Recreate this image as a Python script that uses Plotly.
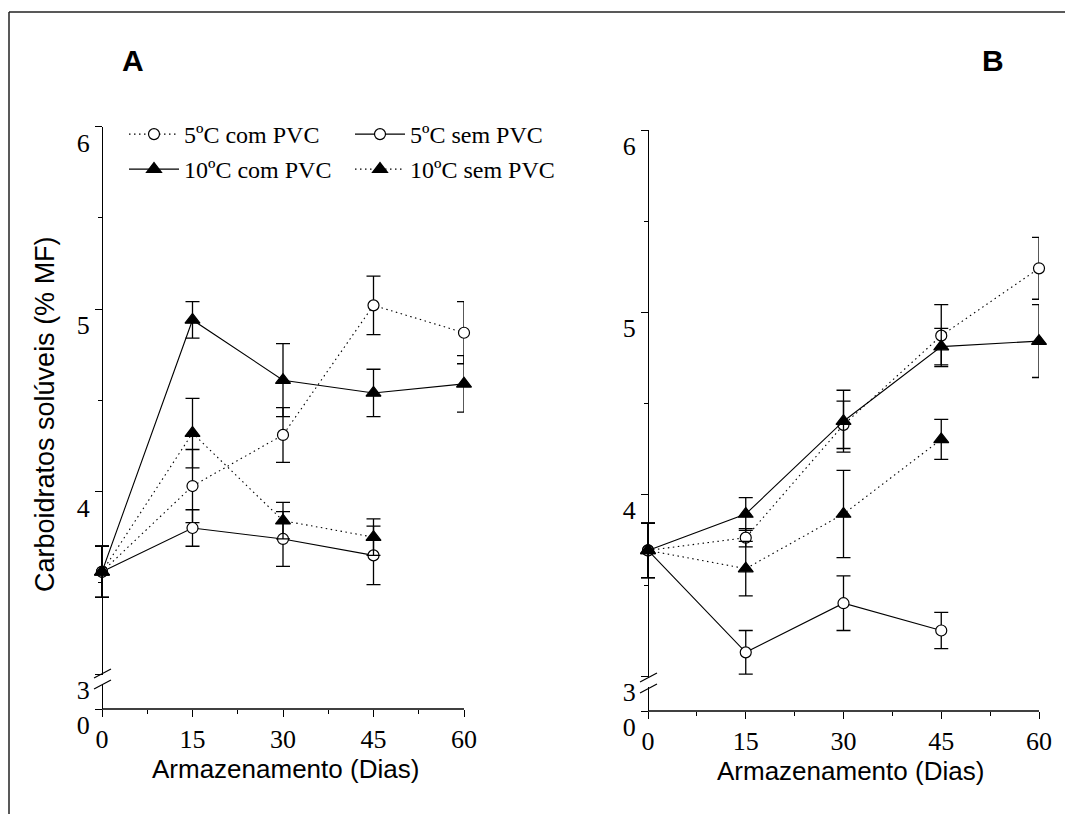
import plotly.graph_objects as go

# ---------------- data ----------------
days = [0, 15, 30, 45, 60]
days_short = [0, 15, 30, 45]

# Panel A
A_5com = [3.56, 4.03, 4.31, 5.02, 4.87]
A_5com_err = [0.14, 0.20, 0.15, 0.16, 0.17]
A_5sem = [3.56, 3.80, 3.74, 3.65]
A_5sem_err = [0.14, 0.10, 0.15, 0.16]
A_10com = [3.56, 4.94, 4.61, 4.54, 4.59]
A_10com_err = [0.14, 0.10, 0.20, 0.13, 0.155]
A_10sem = [3.56, 4.32, 3.84, 3.75]
A_10sem_err = [0.14, 0.19, 0.10, 0.10]

# Panel B
B_5com = [3.69, 3.76, 4.38, 4.87, 5.24]
B_5com_err = [0.15, 0.05, 0.13, 0.17, 0.17]
B_5sem = [3.69, 3.13, 3.40, 3.25]
B_5sem_err = [0.15, 0.12, 0.15, 0.10]
B_10com = [3.69, 3.89, 4.40, 4.81, 4.84]
B_10com_err = [0.15, 0.09, 0.17, 0.10, 0.20]
B_10sem = [3.69, 3.59, 3.89, 4.30]
B_10sem_err = [0.15, 0.15, 0.24, 0.11]

series_names = ["5ºC com PVC", "5ºC sem PVC", "10ºC com PVC", "10ºC sem PVC"]
x_ticks = [0, 15, 30, 45, 60]
x_minor = [7.5, 22.5, 37.5, 52.5]
y_ticks = [3, 4, 5, 6]
y_minor = [3.5, 4.5, 5.5]
y_tick_text = ["0", "3", "4", "5", "6"]

# ---------------- layout helpers ----------------
W, H = 1065, 814
def px(x):
    return x / W
def py(y):
    return 1 - y / H

SERIF = "Liberation Serif, Times New Roman, serif"
SANS = "Liberation Sans, Arial, sans-serif"

dot = "1.5px,3.5px"
styles = {
    "5com": dict(dash=dot, symbol="circle", fill="white", size=11),
    "5sem": dict(dash="solid", symbol="circle", fill="white", size=11),
    "10com": dict(dash="solid", symbol="triangle-up", fill="black", size=13),
    "10sem": dict(dash=dot, symbol="triangle-up", fill="black", size=13),
}

fig = go.Figure()

def add(xv, yv, err, key, name, xa, ya, showlegend, legend):
    s = styles[key]
    fig.add_trace(go.Scatter(
        x=xv, y=yv, mode="lines+markers", name=name,
        xaxis=xa, yaxis=ya, showlegend=showlegend, legend=legend,
        cliponaxis=False,
        line=dict(color="black", width=1.1, dash=s["dash"]),
        marker=dict(symbol=s["symbol"], size=s["size"], color=s["fill"],
                    line=dict(color="black", width=1.2)),
        error_y=dict(type="data", array=err, visible=True, color="black",
                     thickness=1.3, width=7),
    ))

# Panel A
add(days, A_5com, A_5com_err, "5com", series_names[0], "x", "y", True, "legend")
add(days_short, A_5sem, A_5sem_err, "5sem", series_names[1], "x", "y", True, "legend")
add(days, A_10com, A_10com_err, "10com", series_names[2], "x", "y", True, "legend2")
add(days_short, A_10sem, A_10sem_err, "10sem", series_names[3], "x", "y", True, "legend2")
# Panel B
add(days, B_5com, B_5com_err, "5com", series_names[0], "x2", "y2", False, "legend")
add(days_short, B_5sem, B_5sem_err, "5sem", series_names[1], "x2", "y2", False, "legend")
add(days, B_10com, B_10com_err, "10com", series_names[2], "x2", "y2", False, "legend2")
add(days_short, B_10sem, B_10sem_err, "10sem", series_names[3], "x2", "y2", False, "legend2")

# axis geometry (pixels)
A_x0, A_x1, A_ybot, A_ytop = 102, 464, 709, 126.5
B_x0, B_x1, B_ybot, B_ytop = 648, 1039, 711, 130
A_low = 3 - 35 / 182.5
B_low = 3 - 35 / 182.0
XPAD = 3.0  # days of room left of the y axis so day-0 error caps are not clipped
TICKFONT = dict(family=SERIF, size=26, color="black")

def xax(x0, x1, anchor):
    pxd = (x1 - x0) / 60.0
    left = x0 - XPAD * pxd
    return dict(range=[-XPAD, 60], domain=[px(left), px(x1)], anchor=anchor,
                tickvals=x_ticks, ticktext=[str(v) for v in x_ticks],
                showline=False, ticks="outside", automargin=False,
                ticklen=7, tickwidth=1.3, tickcolor="black", showgrid=False,
                zeroline=False, tickfont=TICKFONT,
                ticklabelstandoff=0,
                minor=dict(tickvals=x_minor, ticklen=4, tickwidth=1.2,
                           tickcolor="black", ticks="outside", showgrid=False))

def yax(low, x0, ybot, ytop):
    return dict(range=[low, 6], tickvals=[low] + y_ticks, ticktext=y_tick_text,
                domain=[py(ybot), py(ytop)], anchor="free", position=px(x0),
                showline=True, linecolor="black", linewidth=1.3, ticks="outside",
                automargin=False,
                ticklen=7, tickwidth=1.3, tickcolor="black", showgrid=False,
                zeroline=False, tickfont=TICKFONT,
                ticklabelshift=16, ticklabelstandoff=0,
                minor=dict(tickvals=y_minor, ticklen=4, tickwidth=1.2,
                           tickcolor="black", ticks="outside", showgrid=False))

leg = dict(orientation="h", xanchor="left", yanchor="top",
           entrywidth=161, entrywidthmode="pixels", itemwidth=50,
           font=dict(family=SERIF, size=24, color="black"),
           bgcolor="rgba(0,0,0,0)", tracegroupgap=0)

fig.update_layout(
    width=W, height=H, margin=dict(l=0, r=0, t=0, b=0, autoexpand=False),
    paper_bgcolor="white", plot_bgcolor="white",
    xaxis=xax(A_x0, A_x1, "y"),
    yaxis=yax(A_low, A_x0, A_ybot, A_ytop),
    xaxis2=xax(B_x0, B_x1, "y2"),
    yaxis2=yax(B_low, B_x0, B_ybot, B_ytop),
    legend=dict(leg, x=px(124), y=py(112)),
    legend2=dict(leg, x=px(124), y=py(147)),
    showlegend=True,
)

ann = [
    dict(text="<b>A</b>", x=px(133), y=py(61), font=dict(family=SANS, size=30, color="black")),
    dict(text="<b>B</b>", x=px(993), y=py(61), font=dict(family=SANS, size=30, color="black")),
    dict(text="Armazenamento (Dias)", x=px(285), y=py(769), font=dict(family=SANS, size=26, color="black")),
    dict(text="Armazenamento (Dias)", x=px(850), y=py(771), font=dict(family=SANS, size=26, color="black")),
    dict(text="Carboidratos solúveis (% MF)", x=px(45), y=py(414), textangle=-90,
         font=dict(family=SANS, size=27, color="black")),
]
for a in ann:
    a.update(xref="paper", yref="paper", showarrow=False, xanchor="center", yanchor="middle")
fig.update_layout(annotations=ann)

shapes = [
    # outer frame (partial, cropped)
    dict(type="line", xref="paper", yref="paper", x0=px(9), y0=py(814), x1=px(9), y1=py(12),
         line=dict(color="#222", width=1.5)),
    dict(type="line", xref="paper", yref="paper", x0=px(9), y0=py(12), x1=px(1065), y1=py(12),
         line=dict(color="#222", width=1.5)),
    # x axis lines from day 0 to day 60
    dict(type="line", xref="x", yref="y domain", x0=0, x1=60, y0=0, y1=0,
         line=dict(color="black", width=1.3)),
    dict(type="line", xref="x2", yref="y2 domain", x0=0, x1=60, y0=0, y1=0,
         line=dict(color="black", width=1.3)),
    # axis break A
    dict(type="line", xref="paper", yref="paper", x0=px(A_x0), y0=py(675), x1=px(A_x0), y1=py(684),
         line=dict(color="white", width=4)),
    dict(type="line", xref="paper", yref="paper", x0=px(94), y0=py(678), x1=px(111), y1=py(669),
         line=dict(color="black", width=1.2)),
    dict(type="line", xref="paper", yref="paper", x0=px(94), y0=py(689), x1=px(111), y1=py(680),
         line=dict(color="black", width=1.2)),
    # axis break B
    dict(type="line", xref="paper", yref="paper", x0=px(B_x0), y0=py(678), x1=px(B_x0), y1=py(687),
         line=dict(color="white", width=4)),
    dict(type="line", xref="paper", yref="paper", x0=px(640), y0=py(682), x1=px(657), y1=py(673),
         line=dict(color="black", width=1.2)),
    dict(type="line", xref="paper", yref="paper", x0=px(640), y0=py(693), x1=px(657), y1=py(684),
         line=dict(color="black", width=1.2)),
]
fig.update_layout(shapes=shapes)

fig.write_html("out.html")
